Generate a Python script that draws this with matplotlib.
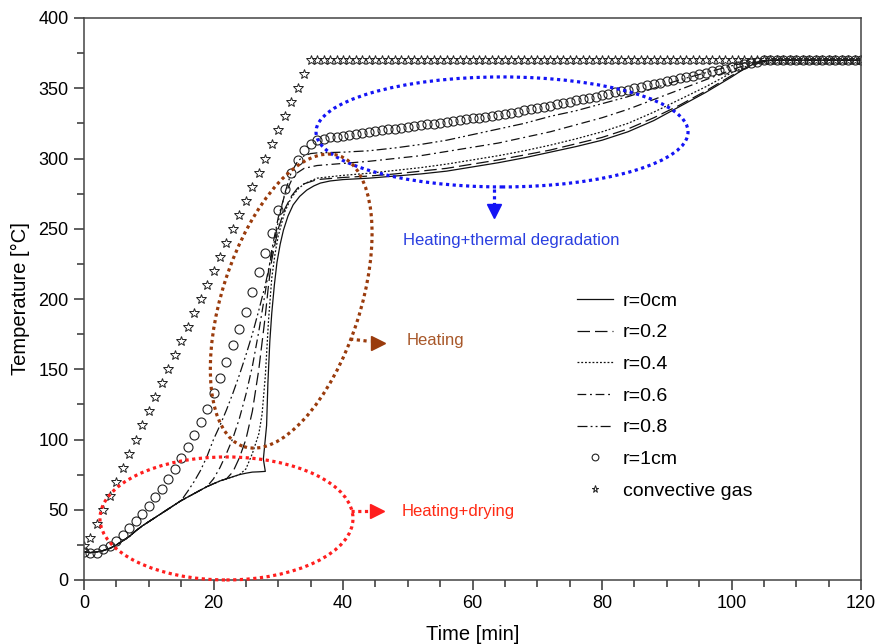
import numpy as np
import matplotlib
matplotlib.use("Agg")
import matplotlib.pyplot as plt
from matplotlib.patches import Ellipse
from matplotlib import transforms as mtransforms
from matplotlib.ticker import MultipleLocator

plt.rcParams['font.family'] = ['Liberation Sans', 'DejaVu Sans']

# ---------------- data ----------------
minutes = np.arange(0, 121)

# convective gas temperature [degC], one value per minute
gas_ramp = [24, 30, 40, 50, 60, 70, 80, 90, 100, 110,
            120, 130, 140, 150, 160, 170, 180, 190, 200, 210,
            220, 230, 240, 250, 260, 270, 280, 290, 300, 310,
            320, 330, 340, 350, 360, 370]
gas_plateau = [370] * 85
gas_T = gas_ramp + gas_plateau

# particle surface r = 1 cm, one value per minute
surf_T = [20, 19.5, 19.5, 22, 24, 28, 32, 37, 42, 47,
          53, 59, 65, 72, 79, 86.5, 95, 103.5, 112.5, 122,
          133, 144, 155, 167, 179, 191, 205, 219, 233, 247,
          263, 278, 290, 299, 306, 310, 313, 314, 315, 315.5,
          316, 316.7, 317.4, 318.1, 318.8, 319.5, 320.1, 320.7, 321.3, 321.9,
          322.5, 323.1, 323.7, 324.3, 324.9, 325.5, 326.1, 326.7, 327.3, 327.9,
          328.5, 329.1, 329.7, 330.3, 331, 331.8, 332.6, 333.4, 334.2, 335,
          335.9, 336.8, 337.7, 338.6, 339.5, 340.4, 341.3, 342.2, 343.1, 344,
          345, 346, 347, 348, 349, 350, 351, 352, 353, 354,
          355, 356, 357, 358, 359, 360, 361, 362, 363, 364,
          365, 366, 367, 368, 369, 370, 370, 370, 370, 370,
          370, 370, 370, 370, 370, 370, 370, 370, 370, 370,
          370]

# drying stage shared by the inner positions
base_t = [0, 1, 2, 3, 4, 5, 6, 7, 8, 9, 10, 11, 12, 13, 14, 15, 16, 17, 18, 19,
          20, 21, 22, 23, 24, 25, 26, 27]
base_T = [20, 19.5, 20, 21, 22.5, 25, 28, 31, 35, 38.5, 41.5, 44.5, 47.5, 50.5,
          53.5, 56.5, 59, 61.5, 64, 66.5, 68.5, 70.5, 72, 73.5, 75, 76, 76.8, 77]

# r = 0 cm (centre)
r00_t = base_t + [28.0, 27.7, 28.2, 28.4, 28.7, 29.0, 29.4, 29.8, 30.3, 30.8, 31.5,
                  32.3, 33.3, 34.4, 35.5, 36.5, 38, 40, 44, 48, 52, 56, 60, 64, 68,
                  72, 76, 80, 84, 88, 92, 96, 100, 102, 104, 106, 120]
r00_T = base_T + [77.3, 86, 110, 140, 170, 190, 210, 226, 239, 249, 259,
                  267, 273, 277.5, 280.5, 282.5, 284, 285, 286, 287.5, 289, 291, 294, 297, 300.5,
                  304.5, 308.5, 313, 319, 327, 337, 347, 358, 364, 368.5, 370, 370]

# r = 0.2 cm
r02_t = base_t[:23] + [23, 24, 25, 26, 27, 28, 28.5, 29, 30, 31, 32, 33, 34, 36, 40, 44,
                       48, 52, 56, 60, 64, 68, 72, 76, 80, 84, 88, 92, 96, 100, 103, 105,
                       107, 120]
r02_T = base_T[:23] + [77, 87, 100, 120, 150, 188, 210, 228, 250, 264, 273, 279, 282, 285,
                       286.5, 287.5, 289, 291, 293, 296, 299, 302.5, 306, 310.5, 315, 321,
                       329, 338, 348, 359, 366, 369, 370, 370]

# r = 0.4 cm
r04_t = base_t[:25] + [25, 26, 27, 27.5, 28, 28.5, 29, 29.5, 30, 31, 32, 33, 34, 36, 40,
                       44, 48, 52, 56, 60, 64, 68, 72, 76, 80, 84, 88, 92, 96, 100, 103,
                       105, 107, 120]
r04_T = base_T[:25] + [79, 90, 104, 118, 145, 185, 215, 232, 245, 262, 272, 278, 282, 286,
                       288, 289.5, 291.5, 293.5, 296, 299, 302, 305.5, 309.5, 314, 319, 325,
                       333, 342, 351, 361, 367, 369.5, 370, 370]

# r = 0.6 cm
r06_t = base_t[:20] + [20, 21, 22, 23, 24, 25, 26, 27, 28, 29, 30, 31, 32, 33, 34, 36, 40,
                       44, 48, 52, 56, 60, 64, 68, 72, 76, 80, 84, 88, 92, 96, 100, 103,
                       106, 120]
r06_T = base_T[:20] + [72, 80, 90, 101, 115, 132, 152, 177, 205, 235, 258, 274, 284, 290,
                       293, 295, 296.5, 298, 300, 302, 305, 308, 311, 315, 319, 324, 329,
                       335, 342, 349, 356, 363, 368, 370, 370]

# r = 0.8 cm
r08_t = base_t[:16] + [16, 17, 18, 19, 20, 21, 22, 23, 24, 25, 26, 27, 28, 29, 30, 31, 32,
                       33, 34, 35, 36, 40, 44, 48, 52, 56, 60, 64, 68, 72, 76, 80, 84, 88,
                       92, 96, 100, 103, 106, 120]
r08_T = base_T[:16] + [63, 70, 78, 88, 100, 110, 121, 133, 146, 160, 175, 192, 210, 232,
                       255, 275, 290, 298, 302, 303.5, 304, 304.5, 305.5, 307.5, 310, 313,
                       317, 321, 325, 330, 334, 339, 344, 350, 356, 361, 366, 369, 370, 370]

legend_labels = ['r=0cm', 'r=0.2', 'r=0.4', 'r=0.6', 'r=0.8', 'r=1cm', 'convective gas']

# ---------------- figure ----------------
W, H = 877, 644
fig = plt.figure(figsize=(W / 100, H / 100), dpi=100)
ax = fig.add_axes([84 / W, 64 / H, 777 / W, 562 / H])

lw = 0.9
ink = '#111111'
ax.plot(r00_t, r00_T, color=ink, lw=lw, ls='-', label=legend_labels[0])
ax.plot(r02_t, r02_T, color=ink, lw=lw, ls=(0, (10, 4)), label=legend_labels[1])
ax.plot(r04_t, r04_T, color=ink, lw=lw, ls=(0, (1.5, 1.5)), label=legend_labels[2])
ax.plot(r06_t, r06_T, color=ink, lw=lw, ls=(0, (7, 3, 1.5, 3)), label=legend_labels[3])
ax.plot(r08_t, r08_T, color=ink, lw=lw, ls=(0, (8, 2.5, 1.5, 2.5, 1.5, 2.5)),
        label=legend_labels[4])
ax.plot(minutes, surf_T, ls='none', marker='o', ms=6.5, mfc='none', mec='#222222',
        mew=0.8, label=legend_labels[5])
ax.plot(minutes, gas_T, ls='none', marker='*', ms=7, mfc='none', mec='#222222',
        mew=0.7, label=legend_labels[6])

ax.set_xlim(0, 120)
ax.set_ylim(0, 400)
ax.xaxis.set_major_locator(MultipleLocator(20))
ax.xaxis.set_minor_locator(MultipleLocator(5))
ax.yaxis.set_major_locator(MultipleLocator(50))
ax.yaxis.set_minor_locator(MultipleLocator(25))
ax.tick_params(which='major', direction='out', length=7, width=1.1, labelsize=13,
               color='#333333', top=False, right=False, pad=4)
ax.tick_params(which='minor', direction='out', length=5, width=1.1,
               color='#333333', top=False, right=False)
for sp in ax.spines.values():
    sp.set_linewidth(1.1)
    sp.set_color('#444444')

ax.set_xlabel('Time [min]', fontsize=14.5, labelpad=9)
ax.set_ylabel('Temperature [\u00b0C]', fontsize=14.5, labelpad=6)

ax.legend(loc='upper left', bbox_to_anchor=(0.6345, 0.512), frameon=False,
          fontsize=14, handlelength=1.85, handletextpad=0.5, labelspacing=0.72,
          borderpad=0, borderaxespad=0, markerscale=0.75)


# ---------------- annotations ----------------
def ring(cx, cy, w_px, h_px, angle, color):
    """Dotted ellipse, sized in pixels, centred on a data point."""
    tr = mtransforms.ScaledTranslation(cx, cy, ax.transData)
    e = Ellipse((0, 0), w_px, h_px, angle=angle, transform=tr, fill=False,
                ec=color, lw=2.3, ls=(0, (1, 1.1)), clip_on=False, zorder=4)
    ax.add_patch(e)


def pointer(t0, t1, T0, T1, head_t, head_T, marker, color):
    ax.plot([t0, t1], [T0, T1], color=color, lw=2.3, ls=(0, (1, 1.1)),
            clip_on=False, zorder=4)
    ax.plot([head_t], [head_T], marker=marker, ms=9.5, color=color, mec=color,
            ls='none', zorder=4)


blue = '#1414f5'
brown = '#9a3b0c'
red = '#ff1e1e'

ring(64.56, 318.9, 372, 110, 0, blue)
ring(32.0, 198.5, 138, 306, -18, brown)
ring(22.0, 43.8, 253, 123, 0, red)

pointer(63.32, 63.32, 278.3, 267.5, 63.32, 262.6, 'v', blue)
pointer(41.1, 44.2, 171.5, 169.8, 45.33, 169.0, '>', brown)
pointer(41.3, 44.2, 49.1, 49.1, 45.25, 49.1, '>', red)

ax.text(49.3, 241.3, 'Heating+thermal degradation', color='#2a3fe0', fontsize=12,
        ha='left', va='center')
ax.text(49.9, 170.8, 'Heating', color='#a8582a', fontsize=12, ha='left', va='center')
ax.text(49.1, 49.1, 'Heating+drying', color='#ff2a14', fontsize=12, ha='left',
        va='center')

fig.savefig('out.png', dpi=100)
